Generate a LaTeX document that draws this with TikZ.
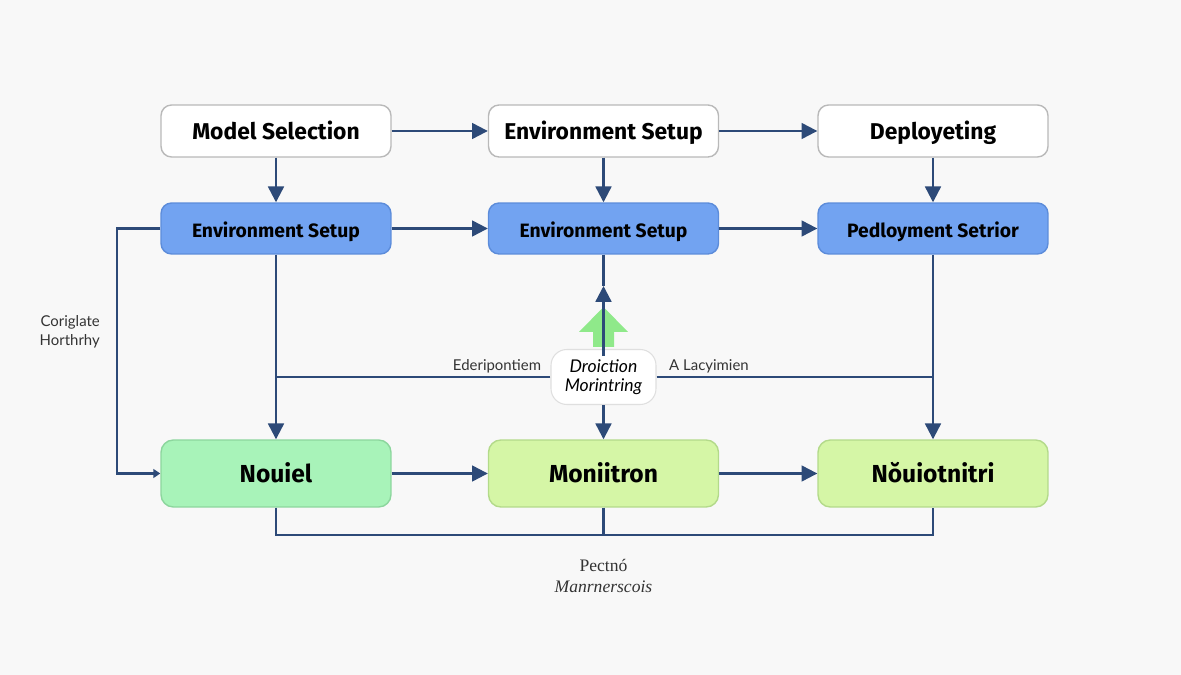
\documentclass[tikz,border=0pt]{standalone}
\usepackage{fontspec}
\setmainfont{Fira Sans}
\newfontfamily\notefont{Lato}
\newfontfamily\serifnote{Liberation Serif}
\usetikzlibrary{positioning}
\usetikzlibrary{arrows.meta}

\definecolor{bgcol}{HTML}{F8F8F8}
\definecolor{linecol}{HTML}{2D4A78}
\definecolor{bluefill}{HTML}{72A3F1}
\definecolor{blueline}{HTML}{5C8CDA}
\definecolor{mintfill}{HTML}{A8F3B9}
\definecolor{mintline}{HTML}{8CD69D}
\definecolor{limefill}{HTML}{D5F6A6}
\definecolor{limeline}{HTML}{B3DA8A}
\definecolor{uparrow}{HTML}{8FE98A}

\begin{document}
\begin{tikzpicture}[x=0.02cm, y=-0.02cm,
stepnode/.style={rectangle, rounded corners=6pt, draw=gray!55, fill=white, line width=0.8pt, minimum width=4.6cm, minimum height=1.04cm, text height=1.9ex, text depth=0pt, font=\bfseries\fontsize{13}{15}\selectfont},
setupnode/.style={rectangle, rounded corners=6pt, draw=blueline, fill=bluefill, line width=0.8pt, minimum width=4.6cm, minimum height=1.02cm, text height=1.9ex, text depth=0pt, font=\bfseries\fontsize{11}{13}\selectfont},
resultnode/.style={rectangle, rounded corners=7pt, draw=limeline, fill=limefill, line width=0.8pt, minimum width=4.6cm, minimum height=1.34cm, text height=1.9ex, text depth=0pt, font=\bfseries\fontsize{14}{16}\selectfont},
hubnode/.style={rectangle, rounded corners=9pt, draw=gray!25, fill=white, line width=0.6pt, minimum width=2.1cm, minimum height=1.1cm, inner sep=2pt, align=center, font=\notefont\itshape\fontsize{10}{10.5}\selectfont},
note/.style={font=\notefont\fontsize{8.5}{10.5}\selectfont, text=black!80},
flow/.style={draw=linecol, line width=1.3pt, -{Triangle[width=9pt,length=9pt]}},
line/.style={draw=linecol, line width=1.3pt},
]
\fill[bgcol] (0,0) rectangle (1181,675);
\useasboundingbox (0,0) rectangle (1181,675);

%Nodes
\node[stepnode]   (select)  at (276,131)   {Model Selection};
\node[stepnode]   (envtop)  at (603.5,131) {Environment Setup};
\node[stepnode]   (deploy)  at (933,131)   {Deployeting};

\node[setupnode]  (setupA)  at (276,228.5)   {Environment Setup};
\node[setupnode]  (setupB)  at (603.5,228.5) {Environment Setup};
\node[setupnode]  (setupC)  at (933,228.5)   {Pedloyment Setrior};

\node[resultnode, draw=mintline, fill=mintfill] (nouiel) at (276,473.5) {Nouiel};
\node[resultnode] (monit)   at (603.5,473.5) {Moniitron};
\node[resultnode] (nouio)   at (933,473.5)   {Nŏuiotnitri};

%Green arrow behind the hub
\fill[uparrow] (593,347) -- (593,332) -- (579,332) -- (603.5,307) -- (628,332) -- (614,332) -- (614,347) -- cycle;

\node[hubnode]    (hub)     at (603.5,377) {Droiction\\Morintring};

\coordinate (tip) at (603.5,286);
\coordinate (bus) at (603.5,535);

%Labels
\node[note, anchor=east, align=right] (loopnote) at (106,332) {Coriglate\\Horthrhy};
\node[note] (leftnote)  at (497,366) {Ederipontiem};
\node[note] (rightnote) at (709,366) {A Lacyimien};
\node[align=center, font=\serifnote\fontsize{10}{12}\selectfont, text=black!80] (busnote) at (603.5,576) {Pectnó\\\itshape Manrnerscois};

%Lines
\draw[flow] (select.east) -- (envtop.west);
\draw[flow] (envtop.east) -- (deploy.west);
\draw[flow] (select.south) -- (setupA.north);
\draw[flow] (envtop.south) -- (setupB.north);
\draw[flow] (deploy.south) -- (setupC.north);
\draw[flow] (setupA.east) -- (setupB.west);
\draw[flow] (setupB.east) -- (setupC.west);

\draw[flow] (setupA.south) -- (nouiel.north);
\draw[flow] (setupC.south) -- (nouio.north);
\draw[line] (hub.west) -- (hub.west -| setupA.south);
\draw[line] (hub.east) -- (hub.east -| setupC.south);
\draw[line] (setupB.south) -- (tip);
\draw[flow] ([yshift=-4pt]hub.north) -- (tip);
\draw[flow] (hub.south) -- (monit.north);

\draw[line, -{Triangle[width=5pt,length=4pt]}] (setupA.west) -- ++(-43,0) |- (nouiel.west);

\draw[flow] (nouiel.east) -- (monit.west);
\draw[flow] (monit.east) -- (nouio.west);
\draw[line] (nouiel.south) |- (bus) -| (nouio.south);
\draw[line] (monit.south) -- (bus);
\end{tikzpicture}
\end{document}
